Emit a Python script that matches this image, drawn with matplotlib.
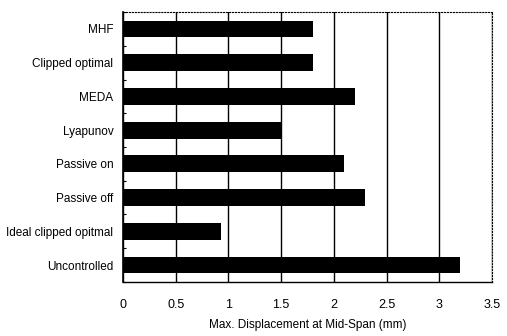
import numpy as np
import matplotlib.pyplot as plt
from matplotlib import font_manager

names = {f.name for f in font_manager.fontManager.ttflist}
fam = 'Liberation Sans Narrow' if 'Liberation Sans Narrow' in names else 'Liberation Sans'
plt.rcParams['font.family'] = [fam, 'DejaVu Sans']

methods = ['Uncontrolled', 'Ideal clipped opitmal', 'Passive off', 'Passive on',
           'Lyapunov', 'MEDA', 'Clipped optimal', 'MHF']
disp = [3.2, 0.93, 2.3, 2.1, 1.5, 2.2, 1.8, 1.8]
xticks = [0, 0.5, 1, 1.5, 2, 2.5, 3, 3.5]

fig = plt.figure(figsize=(5.07, 3.36), dpi=100)
ax = fig.add_axes([0.2426, 0.161, 0.7278, 0.803])

y = np.arange(len(methods))
ax.barh(y, disp, height=0.5, color='black', zorder=3)

ax.set_xlim(0, 3.5)
ax.set_ylim(-0.5, len(methods) - 0.5)
ax.set_xticks(xticks)
ax.set_xticklabels(['0', '0.5', '1', '1.5', '2', '2.5', '3', '3.5'], fontsize=9)
ax.set_yticks(y)
ax.set_yticklabels(methods, fontsize=8.5)
ax.set_yticks(np.arange(-0.5, len(methods), 1), minor=True)
ax.tick_params(axis='y', which='major', length=0, pad=7)
ax.tick_params(axis='y', which='minor', length=2, direction='in', width=0.8)
ax.tick_params(axis='x', length=0, pad=12)
ax.grid(axis='x', color='black', linewidth=1.0, zorder=1)

ax.spines['left'].set_linewidth(1.2)
ax.spines['bottom'].set_linewidth(1.0)
for s in ['top', 'right']:
    ax.spines[s].set_linestyle(':')
    ax.spines[s].set_linewidth(0.8)

ax.set_xlabel('Max. Displacement at Mid-Span (mm)', fontsize=8.5, labelpad=6)

fig.savefig('out.png', dpi=100)
